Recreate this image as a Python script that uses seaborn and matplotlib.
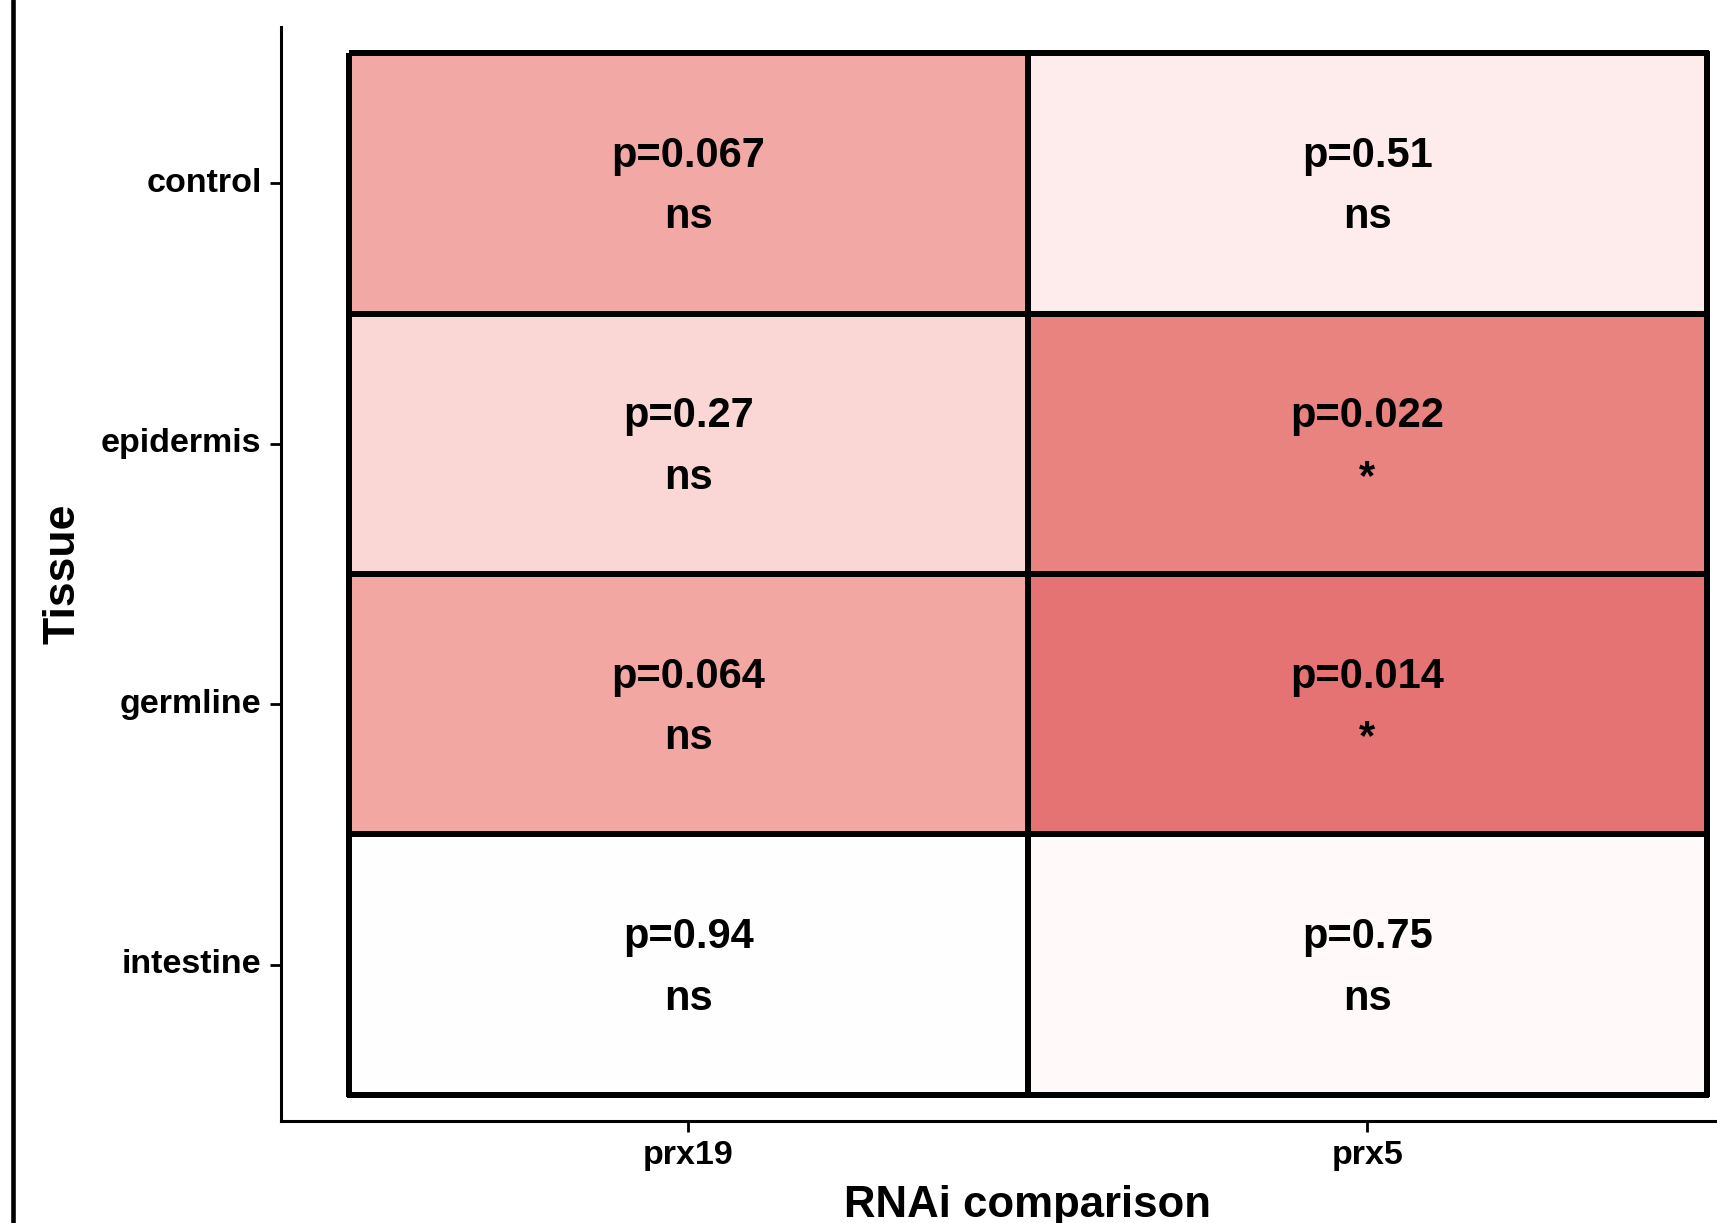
import numpy as np
import pandas as pd
import matplotlib
matplotlib.use("Agg")
import matplotlib.pyplot as plt
from matplotlib.colors import LinearSegmentedColormap
from matplotlib.lines import Line2D
import seaborn as sns

# --- data ---
tissues = ["control", "epidermis", "germline", "intestine"]
comparisons = ["prx19", "prx5"]
p_prx19 = [0.067, 0.27, 0.064, 0.94]
p_prx5 = [0.51, 0.022, 0.014, 0.75]
p_labels_prx19 = ["p=0.067", "p=0.27", "p=0.064", "p=0.94"]
p_labels_prx5 = ["p=0.51", "p=0.022", "p=0.014", "p=0.75"]
sig_prx19 = ["ns", "ns", "ns", "ns"]
sig_prx5 = ["ns", "*", "*", "ns"]

pvals = pd.DataFrame({"prx19": p_prx19, "prx5": p_prx5}, index=tissues)
score = -np.log10(pvals)
annot = np.array([[f"{a}\n{b}", f"{c}\n{d}"] for a, b, c, d in
                  zip(p_labels_prx19, sig_prx19, p_labels_prx5, sig_prx5)])

sns.set_theme(style="white")
plt.rcParams["font.family"] = ["Liberation Sans", "DejaVu Sans"]
plt.rcParams["font.weight"] = "bold"
plt.rcParams["text.color"] = "black"
plt.rcParams["axes.labelcolor"] = "black"

W, H = 1717, 1223
fig = plt.figure(figsize=(W / 100, H / 100), dpi=100)
ax = fig.add_axes([281 / W, 102 / H, 2.2 * 679 / W, 1094 / H])

# white -> red gradient (ggplot-like, perceptual rather than plain RGB)
vmax = score.values.max()
cmap = LinearSegmentedColormap.from_list(
    "wr",
    [(0.0, "#FFFFFF"), (0.1 / vmax, "#FFFBFB"), (0.57 / vmax, "#FAD6D4"),
     (1.17 / vmax, "#F2A9A5"), (1.66 / vmax, "#E9837F"), (1.0, "#E57373")])
sns.heatmap(score, ax=ax, cmap=cmap, vmin=0, vmax=vmax,
            annot=annot, fmt="", cbar=False, linewidths=4.2, linecolor="black",
            annot_kws={"fontsize": 30, "fontweight": "bold", "color": "black",
                       "linespacing": 1.7})
# nudge the cell labels down a touch
for t in ax.texts:
    x, y = t.get_position()
    t.set_position((x, y + 0.012))

ax.set_xlim(-0.1, 2.1)
ax.set_ylim(4.1, -0.1)

for side in ["left", "bottom"]:
    ax.spines[side].set_visible(True)
    ax.spines[side].set_color("black")
    ax.spines[side].set_linewidth(2.2)
for side in ["top", "right"]:
    ax.spines[side].set_visible(False)

ax.tick_params(axis="both", which="both", length=8, width=2, color="black",
               labelsize=24.5, labelcolor="black", pad=6,
               bottom=True, left=True)
ax.set_xticklabels(comparisons, fontweight="bold")
ax.set_yticklabels(tissues, fontweight="bold", rotation=0)

ax.set_xlabel("RNAi comparison", fontsize=31.5, fontweight="bold",
              color="black", labelpad=10)
ax.set_ylabel("Tissue", fontsize=32, fontweight="bold", color="black",
              labelpad=13)

# panel frame line on the far left
fig.add_artist(Line2D([13 / W, 13 / W], [0, 1], transform=fig.transFigure,
                      lw=3.3, color="black"))

fig.savefig("out.png", dpi=100)
